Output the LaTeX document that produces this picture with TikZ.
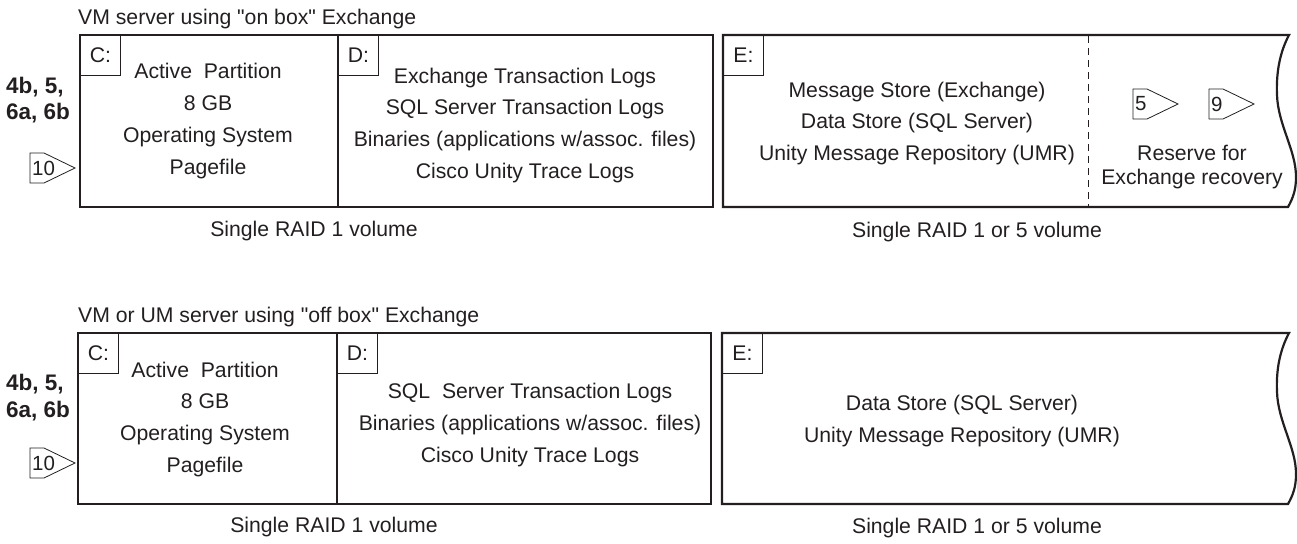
\documentclass[tikz,border=0pt]{standalone}
\usepackage{fontspec}
\setmainfont{Liberation Sans}[Ligatures=TeXOff]
\usetikzlibrary{positioning}
\definecolor{ink}{HTML}{231F20}
\newcommand{\tagmark}[4]{%
  \node[tagtxt] (#1) at (#2+2,#3) {#4};
  \draw[ink,line width=0.8pt] (#2,#3) ++(0,-15) -- ++(14,0) -- ++(31,15) -- ++(-31,15) -- ++(-14,0) -- cycle;}

\begin{document}
\begin{tikzpicture}[x=1pt,y=-1pt,
  txt/.style={text=ink,font=\fontsize{21.2}{24}\selectfont,anchor=base,inner sep=0pt},
  head/.style={txt,anchor=base west},
  num/.style={text=ink,font=\fontsize{22.5}{24}\selectfont\bfseries,anchor=base west,inner sep=0pt},
  drive/.style={draw=ink,line width=0.9pt,text=ink,font=\fontsize{21.2}{24}\selectfont,minimum width=40pt,minimum height=40pt,anchor=north west,inner sep=0pt},
  frame/.style={draw=ink,line width=2.2pt},
  split/.style={draw=ink,line width=1.2pt},
  tagtxt/.style={text=ink,font=\fontsize{20.5}{22}\selectfont,anchor=west,inner sep=0pt}]
\useasboundingbox (0,0) rectangle (1297,543);

	\node[head] (title1) at (78,25) {VM server using "on box" Exchange};
	\node[num] (n1a) at (6,93) {4b, 5,};
	\node[num] (n1b) at (6,119) {6a, 6b};
	\tagmark{t10a}{30}{168}{10}
	\node[drive] (c1) at (80,35) {C:};
	\node[drive] (d1) at (338,35) {D:};
	\node[drive] (e1) at (723,35) {E:};
	\foreach \t [count=\i] in {Active\ \ Partition,8 GB,Operating System,Pagefile}
		\node[txt] (c1-\i) at (208,78+32.3*\i-32.3) {\t};
	\foreach \t [count=\i] in {Exchange Transaction Logs,SQL Server Transaction Logs,{Binaries (applications w/assoc. files)},Cisco Unity Trace Logs}
		\node[txt] (d1-\i) at (525,83+31.7*\i-31.7) {\t};
	\foreach \t [count=\i] in {Message Store (Exchange),Data Store (SQL Server),Unity Message Repository (UMR)}
		\node[txt] (e1-\i) at (917,97+31.5*\i-31.5) {\t};
	\tagmark{t5}{1133}{104}{5}
	\tagmark{t9}{1209}{104}{9}
	\node[txt] (r1) at (1192,160) {Reserve for};
	\node[txt] (r2) at (1192,184) {Exchange recovery};
	\draw[frame] (80,35) rectangle (713,207);
	\draw[split] (338,35) -- (338,207);
	\draw[ink,line width=1pt,dash pattern=on 7pt off 5pt] (1088,36) -- (1088,206);
	\draw[frame] (1289,35) -- (723,35) -- (723,207) -- (1288,207) .. controls (1293,198) and (1296,190) .. (1296,177) .. controls (1296,150) and (1278,125) .. (1277,95) .. controls (1276,72) and (1280,52) .. (1289,35) -- cycle;
	\node[txt] (v1) at (314,236) {Single RAID 1 volume};
	\node[txt] (w1) at (977,237) {Single RAID 1 or 5 volume};

	\node[head] (title2) at (78,322) {VM or UM server using "off box" Exchange};
	\node[num] (n2a) at (6,390) {4b, 5,};
	\node[num] (n2b) at (6,417) {6a, 6b};
	\tagmark{t10b}{30}{463}{10}
	\node[drive] (c2) at (78,333) {C:};
	\node[drive] (d2) at (337,333) {D:};
	\node[drive] (e2) at (722,333) {E:};
	\foreach \t [count=\i] in {Active\ \ Partition,8 GB,Operating System,Pagefile}
		\node[txt] (c2-\i) at (205,377+31.7*\i-31.7) {\t};
	\foreach \t [count=\i] in {SQL\ \ Server Transaction Logs,{Binaries (applications w/assoc. files)},Cisco Unity Trace Logs}
		\node[txt] (d2-\i) at (530,398+32*\i-32) {\t};
	\foreach \t [count=\i] in {Data Store (SQL Server),Unity Message Repository (UMR)}
		\node[txt] (e2-\i) at (962,410+32*\i-32) {\t};
	\draw[frame] (78,333) rectangle (711,504);
	\draw[split] (337,333) -- (337,504);
	\draw[frame] (1289,333) -- (722,333) -- (722,504) -- (1288,504) .. controls (1293,495) and (1296,487) .. (1296,474) .. controls (1296,447) and (1278,422) .. (1277,392) .. controls (1276,369) and (1280,350) .. (1289,333) -- cycle;
	\node[txt] (v2) at (334,532) {Single RAID 1 volume};
	\node[txt] (w2) at (977,533) {Single RAID 1 or 5 volume};
\end{tikzpicture}
\end{document}
